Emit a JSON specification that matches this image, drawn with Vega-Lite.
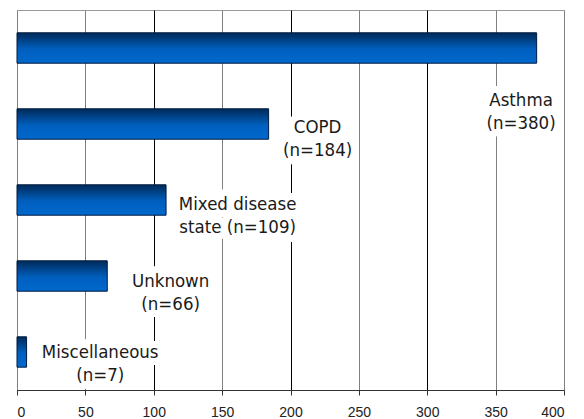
{
  "$schema": "https://vega.github.io/schema/vega-lite/v6.json",
  "width": 547,
  "height": 380,
  "autosize": {"type": "none"},
  "padding": {"left": 17, "top": 10, "right": 20, "bottom": 29},
  "background": "white",
  "config": {
    "view": {"stroke": "#999999", "strokeWidth": 1},
    "text": {"font": "DejaVu Sans Condensed", "fontSize": 18.5, "color": "#1a1a1a", "lineBreak": "\n", "lineHeight": 23, "align": "center", "baseline": "middle"}
  },
  "data": {
    "values": [
      {"category": "Asthma", "value": 380, "label": "Asthma\n(n=380)"},
      {"category": "COPD", "value": 184, "label": "COPD\n(n=184)"},
      {"category": "Mixed disease state", "value": 109, "label": "Mixed disease\nstate (n=109)"},
      {"category": "Unknown", "value": 66, "label": "Unknown\n(n=66)"},
      {"category": "Miscellaneous", "value": 7, "label": "Miscellaneous\n(n=7)"}
    ]
  },
  "encoding": {
    "y": {
      "field": "category", "type": "nominal", "sort": null,
      "scale": {"paddingInner": 0.6, "paddingOuter": 0.3},
      "axis": null
    },
    "x": {
      "field": "value", "type": "quantitative",
      "scale": {"domain": [0, 400], "nice": false},
      "axis": {
        "title": null,
        "values": [0, 50, 100, 150, 200, 250, 300, 350, 400],
        "grid": true,
        "gridColor": {"condition": {"test": "datum.value === 100 || datum.value === 200 || datum.value === 300", "value": "#000000"}, "value": "#808080"},
        "gridWidth": 1,
        "domainColor": "#333333",
        "domainWidth": 1,
        "tickColor": "#333333",
        "tickSize": 5,
        "labelFont": "Liberation Sans",
        "labelFontSize": 14,
        "labelColor": "#222222",
        "labelPadding": 10
      }
    }
  },
  "layer": [
    {
      "mark": {
        "type": "bar",
        "stroke": "#001a40",
        "strokeWidth": 1,
        "color": {
          "gradient": "linear", "x1": 0, "y1": 0, "x2": 0, "y2": 1,
          "stops": [
            {"offset": 0, "color": "#002a58"},
            {"offset": 0.55, "color": "#0060c0"},
            {"offset": 1, "color": "#0068cc"}
          ]
        }
      }
    },
    {"transform": [{"filter": "datum.category === 'Asthma'"}], "mark": {"type": "text", "dx": -15.6, "dy": 52, "stroke": "white", "strokeWidth": 14, "strokeJoin": "round", "color": "white"}, "encoding": {"text": {"field": "label"}}},
    {"transform": [{"filter": "datum.category === 'COPD'"}], "mark": {"type": "text", "dx": 49, "dy": 2.5, "stroke": "white", "strokeWidth": 14, "strokeJoin": "round", "color": "white"}, "encoding": {"text": {"field": "label"}}},
    {"transform": [{"filter": "datum.category === 'Mixed disease state'"}], "mark": {"type": "text", "dx": 71.6, "dy": 4, "stroke": "white", "strokeWidth": 14, "strokeJoin": "round", "color": "white"}, "encoding": {"text": {"field": "label"}}},
    {"transform": [{"filter": "datum.category === 'Unknown'"}], "mark": {"type": "text", "dx": 63.4, "dy": 4.5, "stroke": "white", "strokeWidth": 14, "strokeJoin": "round", "color": "white"}, "encoding": {"text": {"field": "label"}}},
    {"transform": [{"filter": "datum.category === 'Miscellaneous'"}], "mark": {"type": "text", "dx": 73.6, "dy": -0.5, "stroke": "white", "strokeWidth": 14, "strokeJoin": "round", "color": "white"}, "encoding": {"text": {"field": "label"}}},
    {"transform": [{"filter": "datum.category === 'Asthma'"}], "mark": {"type": "text", "dx": -15.6, "dy": 52}, "encoding": {"text": {"field": "label"}}},
    {"transform": [{"filter": "datum.category === 'COPD'"}], "mark": {"type": "text", "dx": 49, "dy": 2.5}, "encoding": {"text": {"field": "label"}}},
    {"transform": [{"filter": "datum.category === 'Mixed disease state'"}], "mark": {"type": "text", "dx": 71.6, "dy": 4}, "encoding": {"text": {"field": "label"}}},
    {"transform": [{"filter": "datum.category === 'Unknown'"}], "mark": {"type": "text", "dx": 63.4, "dy": 4.5}, "encoding": {"text": {"field": "label"}}},
    {"transform": [{"filter": "datum.category === 'Miscellaneous'"}], "mark": {"type": "text", "dx": 73.6, "dy": -0.5}, "encoding": {"text": {"field": "label"}}}
  ]
}
